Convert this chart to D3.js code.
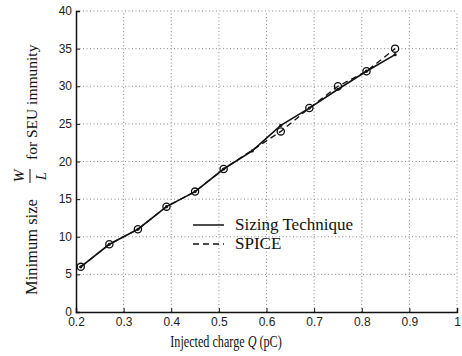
<!DOCTYPE html>
<html lang="en">
<head>
    <meta charset="UTF-8">
    <title>Minimum size for SEU immunity</title>
    <script src="https://d3js.org/d3.v7.min.js" charset="utf-8"></script>
    <style>
        body { margin: 0; background: white; }
        svg { display: block; background: white; }
        .tick text { font-family: 'Liberation Sans', Arial, sans-serif; font-size: 12px; fill: #222; }
        .serif { font-family: 'Liberation Serif', 'Times New Roman', serif; fill: #111; }
    </style>
</head>
<body>
<script>
    // data
    var charge = [0.21, 0.27, 0.33, 0.39, 0.45, 0.51, 0.57, 0.63, 0.69, 0.75, 0.81, 0.87];
    var sizing = [6, 9, 11, 14, 16, 19, 21.4, 24.8, 27.1, 29.6, 32, 34.2];
    var spiceCharge = [0.21, 0.27, 0.33, 0.39, 0.45, 0.51, 0.63, 0.69, 0.75, 0.81, 0.87];
    var spice = [6, 9, 11, 14, 16, 19, 24, 27.1, 30, 32, 35];
    var xTicks = [0.2, 0.3, 0.4, 0.5, 0.6, 0.7, 0.8, 0.9, 1];
    var yTicks = [0, 5, 10, 15, 20, 25, 30, 35, 40];

    var svgwidth = 462;
    var svgheight = 356;

    var svg = d3.select('body').append('svg')
        .attr('width', svgwidth)
        .attr('height', svgheight);

    var x = d3.scaleLinear().domain([0.2, 1]).range([76, 457]);
    var y = d3.scaleLinear().domain([0, 40]).range([312, 11]);

    // dotted grid
    svg.append('g').selectAll('line.vg')
        .data(xTicks.slice(1))
        .enter().append('line')
        .attr('x1', d => x(d)).attr('x2', d => x(d))
        .attr('y1', y(0)).attr('y2', y(40))
        .attr('stroke', '#8a8a8a')
        .attr('stroke-dasharray', '1,2.5');
    svg.append('g').selectAll('line.hg')
        .data(yTicks.slice(1))
        .enter().append('line')
        .attr('x1', x(0.2)).attr('x2', x(1))
        .attr('y1', d => y(d)).attr('y2', d => y(d))
        .attr('stroke', '#8a8a8a')
        .attr('stroke-dasharray', '1,2.5');

    // axes
    var xAxis = svg.append('g')
        .attr('transform', 'translate(0,' + y(0) + ')')
        .call(d3.axisBottom(x).tickValues(xTicks).tickSize(-4).tickPadding(7)
            .tickFormat(d => d === 1 ? '1' : d3.format('.1f')(d)));
    var yAxis = svg.append('g')
        .attr('transform', 'translate(' + x(0.2) + ',0)')
        .call(d3.axisLeft(y).tickValues(yTicks).tickSize(-4).tickPadding(4));
    [xAxis, yAxis].forEach(function(a) {
        a.select('.domain').attr('stroke', '#111').attr('stroke-width', 1.5);
        a.selectAll('.tick line').attr('stroke', '#111');
    });
    xAxis.selectAll('.tick text').attr('dy', '0.6em');
    yAxis.selectAll('.tick text').attr('dy', '0.3em');

    // lines
    var solid = d3.line().x((d, i) => x(charge[i])).y(d => y(d));
    var dashed = d3.line().x((d, i) => x(spiceCharge[i])).y(d => y(d));

    svg.append('path')
        .attr('d', dashed(spice))
        .attr('fill', 'none')
        .attr('stroke', '#111')
        .attr('stroke-width', 1.3)
        .attr('stroke-dasharray', '6,4');

    svg.append('path')
        .attr('d', solid(sizing))
        .attr('fill', 'none')
        .attr('stroke', '#111')
        .attr('stroke-width', 1.6);

    svg.append('g').selectAll('circle')
        .data(sizing)
        .enter().append('circle')
        .attr('cx', (d, i) => x(charge[i]))
        .attr('cy', d => y(d))
        .attr('r', 1.6)
        .attr('fill', '#111');

    svg.append('g').selectAll('circle')
        .data(spice)
        .enter().append('circle')
        .attr('cx', (d, i) => x(spiceCharge[i]))
        .attr('cy', d => y(d))
        .attr('r', 3.6)
        .attr('fill', 'none')
        .attr('stroke', '#111')
        .attr('stroke-width', 1.3);

    // legend
    var legend = svg.append('g').attr('class', 'legend');
    var items = [{ name: 'Sizing Technique', dash: null }, { name: 'SPICE', dash: '6,4' }];
    items.forEach(function(it, i) {
        var ly = 225 + i * 19;
        legend.append('line')
            .attr('x1', 193).attr('x2', 224)
            .attr('y1', ly).attr('y2', ly)
            .attr('stroke', '#111')
            .attr('stroke-width', 1.5)
            .attr('stroke-dasharray', it.dash);
        legend.append('text')
            .attr('class', 'serif')
            .attr('x', 235).attr('y', ly + 5)
            .style('font-size', '17px')
            .text(it.name);
    });

    // x label
    var xl = svg.append('text')
        .attr('class', 'serif')
        .attr('transform', 'translate(226,347) scale(0.76,1)')
        .attr('text-anchor', 'middle')
        .style('font-size', '16px');
    xl.append('tspan').text('Injected charge ');
    xl.append('tspan').style('font-style', 'italic').text('Q');
    xl.append('tspan').text(' (pC)');

    // y label with W/L fraction
    var yl = svg.append('g').attr('transform', 'translate(37,0) rotate(-90)');
    yl.append('text').attr('class', 'serif')
        .attr('x', -295).attr('y', 0)
        .style('font-size', '16.5px')
        .text('Minimum size');
    yl.append('text').attr('class', 'serif')
        .attr('x', -176).attr('y', -13)
        .attr('text-anchor', 'middle')
        .style('font-size', '15px').style('font-style', 'italic')
        .text('W');
    yl.append('line')
        .attr('x1', -183).attr('x2', -169)
        .attr('y1', -7).attr('y2', -7)
        .attr('stroke', '#111').attr('stroke-width', 1);
    yl.append('text').attr('class', 'serif')
        .attr('x', -176).attr('y', 9)
        .attr('text-anchor', 'middle')
        .style('font-size', '15px').style('font-style', 'italic')
        .text('L');
    yl.append('text').attr('class', 'serif')
        .attr('x', -160).attr('y', 0)
        .style('font-size', '15.5px')
        .text('for SEU immunity');
</script>
</body>
</html>
